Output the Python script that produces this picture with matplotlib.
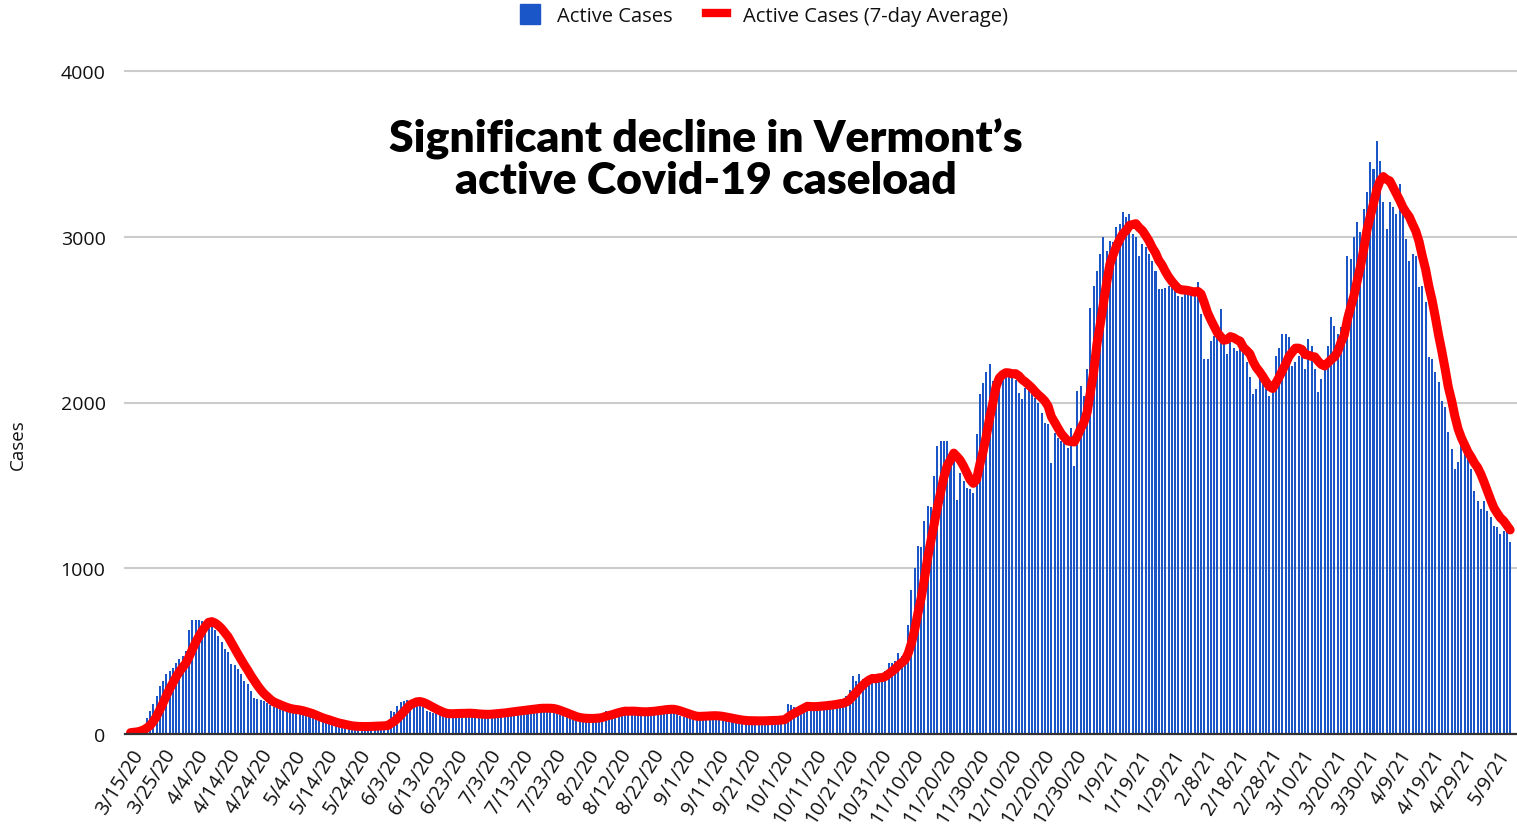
import matplotlib
matplotlib.use('Agg')
import matplotlib.pyplot as plt
from matplotlib.patches import Patch
from matplotlib.lines import Line2D
import numpy as np
import pandas as pd

# daily active cases (3/15/20 onward)
first_wave = [
    8, 12, 18, 30, 55, 95, 140, 180, 230, 290,
    320, 360, 380, 400, 430, 450, 470, 500, 630, 690,
    690, 690, 680, 670, 665, 660, 630, 590, 555, 510,
    495, 420, 415, 390, 360, 320, 300, 260, 215, 210,
    205, 200, 190, 175, 160, 155, 150, 150, 148, 145,
    145, 140, 135, 120, 110, 108, 100, 90, 80, 78,
    75, 70, 60, 55, 50, 48, 46, 45, 44, 44,
    45, 45, 46, 48, 48, 50, 52, 50, 52, 55,
]
summer = [
    140, 130, 170, 195, 200, 205, 200, 200, 190, 180,
    160, 140, 130, 128, 125, 125, 118, 112, 120, 128,
    135, 130, 126, 122, 118, 115, 118, 120, 122, 118,
    120, 125, 128, 130, 132, 135, 138, 140, 142, 145,
    148, 150, 152, 155, 158, 160, 158, 155, 152, 150,
    145, 128, 115, 108, 102, 98, 95, 92, 90, 92,
    95, 96, 98, 100, 105, 110, 140, 130, 135, 140,
    142, 140, 138, 136, 135, 132, 130, 132, 135, 140,
    145, 148, 150, 152, 150, 148, 150, 145, 120, 110,
    105, 102, 100, 105, 110, 112, 115, 112, 110, 108,
    105, 100, 95, 90, 85, 82, 80, 80, 78, 78,
    80, 82, 80, 78, 80, 80, 82, 85, 85, 88,
    90, 95, 178, 175, 165, 160, 162, 165, 165, 168,
    170, 170, 172, 175, 178, 180, 185, 190, 200, 190,
]
fall_winter = [
    230, 268, 349, 320, 360, 330, 325, 330, 332, 335,
    360, 370, 380, 430, 430, 440, 490, 470, 490, 657,
    867, 1000, 1137, 1130, 1287, 1377, 1370, 1557, 1737, 1767,
    1767, 1767, 1617, 1650, 1413, 1575, 1527, 1485, 1480, 1455,
    1810, 2050, 2117, 2187, 2230, 2127, 2147, 2177, 2190, 2200,
    2180, 2187, 2137, 2057, 2020, 2087, 2080, 2050, 2030, 1998,
    1938, 1877, 1870, 1637, 1817, 1787, 1767, 1770, 1727, 1848,
    1617, 2067, 2097, 2037, 2200, 2568, 2700, 2795, 2896, 2997,
    2916, 2976, 2966, 3057, 3077, 3148, 3117, 3138, 3017, 2997,
    2886, 2956, 2936, 2896, 2856, 2795, 2685, 2685, 2690, 2705,
]
spring = [
    2705, 2690, 2645, 2635, 2680, 2670, 2670, 2670, 2725, 2534,
    2262, 2262, 2373, 2400, 2394, 2564, 2374, 2293, 2384, 2330,
    2313, 2333, 2303, 2243, 2152, 2051, 2080, 2140, 2130, 2080,
    2041, 2070, 2282, 2330, 2413, 2413, 2393, 2222, 2242, 2282,
    2272, 2202, 2383, 2343, 2200, 2062, 2140, 2212, 2343, 2514,
    2464, 2413, 2454, 2440, 2886, 2866, 2997, 3087, 3027, 3168,
    3268, 3449, 3409, 3580, 3459, 3208, 3047, 3208, 3178, 3138,
    3318, 3158, 2987, 2856, 2896, 2886, 2695, 2705, 2604, 2273,
    2263, 2182, 2122, 2011, 1971, 1820, 1720, 1599, 1640, 1750,
    1720, 1670, 1599, 1468, 1408, 1357, 1408, 1348, 1307, 1257,
    1247, 1207, 1227, 1217, 1156,
]
start_date = '2020-03-15'
y_ticks = [0, 1000, 2000, 3000, 4000]

plt.rcParams['font.family'] = ['Open Sans', 'DejaVu Sans']

cases = np.array(first_wave + summer + fall_winter + spring, dtype=float)
days = np.arange(len(cases))
dates = pd.date_range(start_date, periods=len(cases), freq='D')
avg7 = pd.Series(cases).rolling(7, min_periods=1).mean()

fig = plt.figure(figsize=(15.17, 8.29), dpi=100)
ax = fig.add_axes([125 / 1517, 1 - 735 / 829, 1 - 125 / 1517, (735 - 72) / 829])

blue = '#1a56c8'
red = '#ff0000'
txt = '#111111'

ax.bar(days, cases, width=0.62, color=blue, zorder=2)
ax.plot(days, avg7, color=red, lw=6.5, solid_joinstyle='round',
        solid_capstyle='round', zorder=3)

ax.set_xlim(-1.7, 426.1)
ax.set_ylim(0, 4000)

# y axis
ax.set_yticks(y_ticks)
ax.set_yticklabels([str(v) for v in y_ticks], fontsize=14, color=txt)
for v in y_ticks[1:]:
    ax.axhline(v, color='#cccccc', lw=1.5, zorder=1, clip_on=False)
fig.text(18 / 1517, 1 - 445 / 829, 'Cases', rotation=90, ha='center', va='center',
         fontsize=13.5, color=txt)

# x axis: a label every 10 days
tick_idx = np.arange(0, len(cases), 10)
tick_lbl = [f'{d.month}/{d.day}/{d.year % 100}' for d in dates[tick_idx]]
ax.set_xticks(tick_idx)
ax.set_xticklabels(tick_lbl, rotation=58, ha='right', va='top',
                   rotation_mode='anchor', fontsize=14.5, color=txt)
ax.tick_params(axis='both', length=0)
ax.tick_params(axis='y', pad=14)
ax.tick_params(axis='x', pad=8)

for side in ['top', 'right', 'left']:
    ax.spines[side].set_visible(False)
ax.spines['bottom'].set_color('#333333')
ax.spines['bottom'].set_linewidth(1.6)
ax.spines['bottom'].set_zorder(4)

ax.text(0.4174, 0.868, 'Significant decline in Vermont\u2019s\nactive Covid-19 caseload',
        transform=ax.transAxes, ha='center', va='center', multialignment='center',
        fontsize=32, fontweight='heavy', family=['Lato', 'DejaVu Sans'],
        linespacing=1.02, color='black', zorder=5)

handles = [Patch(facecolor=blue, edgecolor=blue),
           Line2D([0], [0], color=red, lw=6)]
fig.legend(handles, ['Active Cases', 'Active Cases (7-day Average)'],
           loc='center', bbox_to_anchor=(764 / 1517, 1 - 16 / 829), ncol=2,
           frameon=False, fontsize=14.5, handlelength=1.0, handleheight=1.1,
           handletextpad=0.8, columnspacing=1.7, labelcolor=txt)

fig.savefig('out.png', dpi=100)
